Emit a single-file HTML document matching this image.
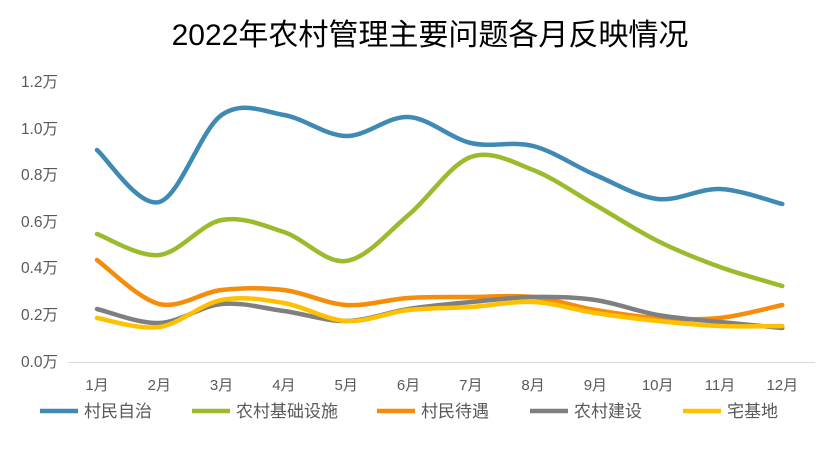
<!DOCTYPE html>
<html><head><meta charset="utf-8"><style>
body{margin:0;background:#fff;}
svg text{font-family:"Liberation Sans","Noto Sans CJK SC",sans-serif;}
</style></head><body>
<svg id="s" width="838" height="456" viewBox="0 0 838 456" xmlns="http://www.w3.org/2000/svg">
<rect width="838" height="456" fill="#fff"/>
<text x="430" y="45" font-size="30" text-anchor="middle" fill="#000">2022年农村管理主要问题各月反映情况</text>
<g font-size="15.5" fill="#595959" text-anchor="end">
<text x="58" y="87">1.2万</text><text x="58" y="134">1.0万</text><text x="58" y="180">0.8万</text>
<text x="58" y="227">0.6万</text><text x="58" y="273">0.4万</text><text x="58" y="320">0.2万</text><text x="58" y="367">0.0万</text>
</g>
<line x1="68" y1="362.5" x2="815" y2="362.5" stroke="#d9d9d9" stroke-width="1"/>
<g id="xl" font-size="15" fill="#595959" text-anchor="middle"></g>
<g id="lines" fill="none" stroke-width="4.5" stroke-linecap="round"></g>
<g font-size="17" fill="#595959">
<line x1="40" y1="411" x2="78" y2="411" stroke="#3f8ab5" stroke-width="4.5"/><text x="84" y="417">村民自治</text>
<line x1="192" y1="411" x2="230" y2="411" stroke="#9bbb2c" stroke-width="4.5"/><text x="236" y="417">农村基础设施</text>
<line x1="377" y1="411" x2="415" y2="411" stroke="#f58c0a" stroke-width="4.5"/><text x="421" y="417">村民待遇</text>
<line x1="530" y1="411" x2="568" y2="411" stroke="#7f7f7f" stroke-width="4.5"/><text x="574" y="417">农村建设</text>
<line x1="683" y1="411" x2="721" y2="411" stroke="#ffc000" stroke-width="4.5"/><text x="727" y="417">宅基地</text>
</g>
</svg>
<script>
var X=i=>97+62.3*i;
var xl=document.getElementById('xl'),s='';
for(var i=0;i<12;i++)s+='<text x="'+X(i)+'" y="390">'+(i+1)+'月</text>';
xl.innerHTML=s;
var D=[
['#3f8ab5',[150,202,115,115,136,117,143,146,175,199,189,204]],
['#9bbb2c',[234,255,220,232,261,215,157,170,205,241,267,286]],
['#7f7f7f',[309,323,304,311,321,309,302,297,300,315,322,328]],
['#ffc000',[318,327,300,303,321,310,307,302,313,321,326,326]],
['#f58c0a',[260,304,290,290,305,298,297,297,310,318,318,305]]];
var order=[0,1,4,2,3];
var g='';
order.forEach(function(k){var c=D[k][0],y=D[k][1],p=y.map((v,i)=>[X(i),v]);
var d='M'+p[0][0]+' '+p[0][1];
for(var i=0;i<p.length-1;i++){var p0=p[Math.max(0,i-1)],p1=p[i],p2=p[i+1],p3=p[Math.min(p.length-1,i+2)];
var t=1/6;
d+=' C'+(p1[0]+(p2[0]-p0[0])*t)+' '+(p1[1]+(p2[1]-p0[1])*t)+' '+(p2[0]-(p3[0]-p1[0])*t)+' '+(p2[1]-(p3[1]-p1[1])*t)+' '+p2[0]+' '+p2[1];}
g+='<path d="'+d+'" stroke="'+c+'"/>';});
document.getElementById('lines').innerHTML=g;
</script>
</body></html>
